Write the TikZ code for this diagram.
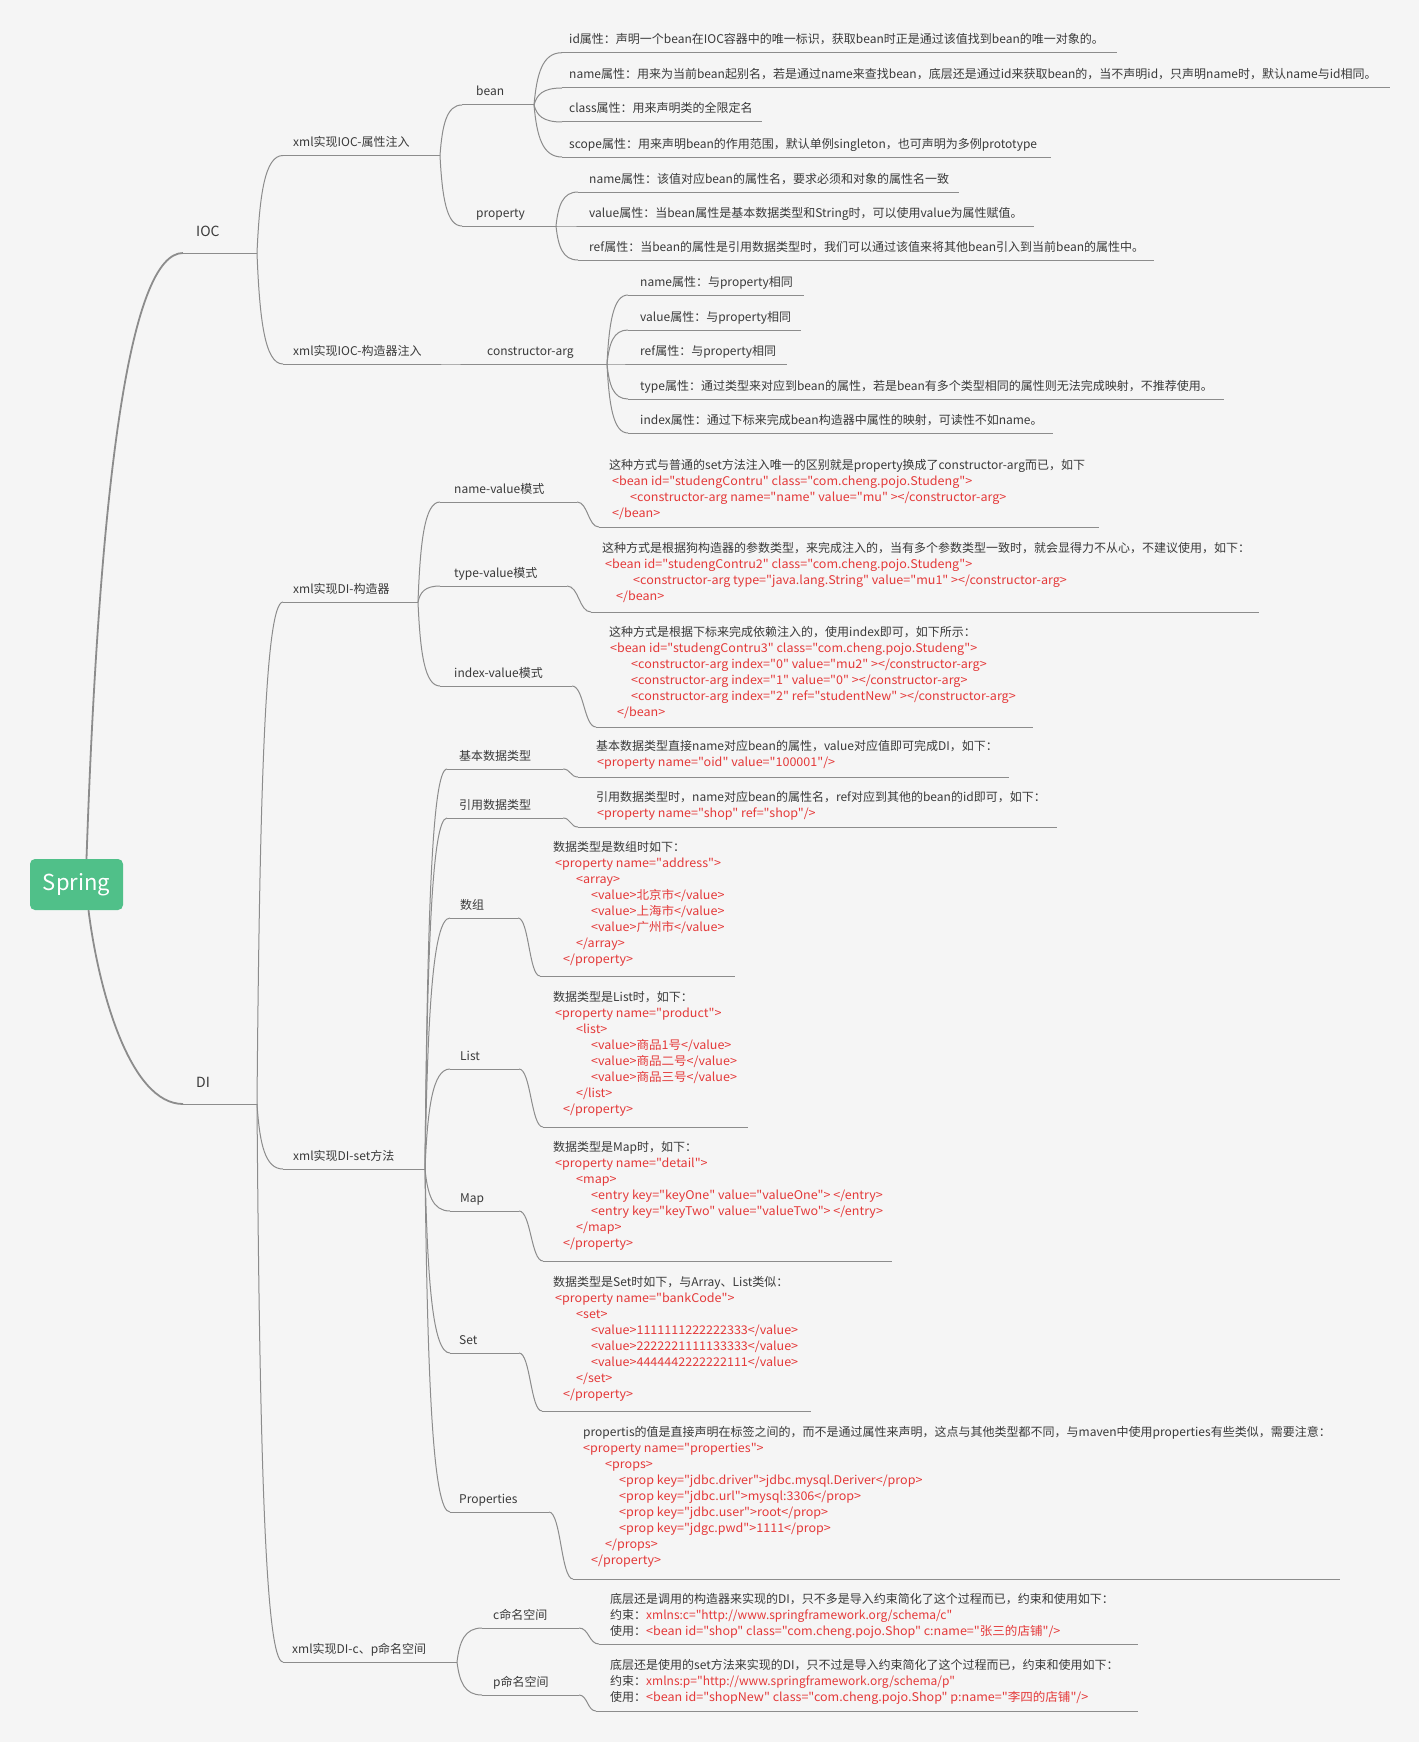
\documentclass[tikz,border=0pt]{standalone}
\usepackage{fontspec}
\defaultfontfeatures[\rmfamily,\sffamily]{}
\setmainfont{Noto Sans CJK SC}
\newfontfamily\cjkf{Noto Sans CJK SC}
\newfontfamily\codef{Noto Sans CJK SC}[FakeStretch=1.045]
\usetikzlibrary{calc}
\definecolor{bgc}{HTML}{F5F5F5}
\definecolor{lnc}{HTML}{8C8C8C}
\definecolor{txc}{HTML}{3A3A3A}
\definecolor{rdc}{RGB}{228,57,57}
\definecolor{sgc}{RGB}{80,192,137}
\newcommand\ctl{\rule{0pt}{11pt}}
\newcommand\rc[1]{{\codef\textcolor{rdc}{#1}}}
\newcommand\ru[1]{\textcolor{rdc}{#1}}
\newcommand\ind[1]{\hspace*{#1pt}}
\tikzset{
 lnk/.style={draw=lnc, line width=1pt},
 trunk/.style={draw=lnc, line width=1.8pt},
 fan/.style={to path={let \p1=(\tikztostart), \p2=(\tikztotarget) in .. controls ({\x1+0.1*(\x2-\x1)},{\y1+0.6*(\y2-\y1)}) and ({\x1+0.3*(\x2-\x1)},{\y2}) .. (\tikztotarget)}},
 ess/.style={to path={let \p1=(\tikztostart), \p2=(\tikztotarget) in .. controls ({0.5*\x1+0.5*\x2},{\y1}) and ({0.5*\x1+0.5*\x2},{\y2}) .. (\tikztotarget)}},
 lbl/.style={anchor=base west, inner sep=0pt, text=txc, font=\cjkf\fontsize{12}{15.9}\selectfont},
 big/.style={lbl, font=\cjkf\fontsize{14}{16}\selectfont},
 txt/.style={anchor=north west, inner sep=0pt, text=txc, align=left, font=\cjkf\fontsize{12}{15.9}\selectfont},
}
\begin{document}
\begin{tikzpicture}[x=1pt,y=-1pt]
\fill[bgc] (0,0) rectangle (1419,1742);
\useasboundingbox (0,0) rectangle (1419,1742);

% root
\node[fill=sgc, rounded corners=5pt, minimum width=93pt, minimum height=51pt, text=white, inner sep=0pt, font=\cjkf\fontsize{22}{24}\selectfont] (spring) at (76.5,884.5) {Spring};

% ---------- coordinates ----------
\coordinate (ioc-s) at (183,253); \coordinate (ioc-e) at (257,253);
\coordinate (a1-s) at (283,155.5); \coordinate (a1-e) at (440,155.5);
\coordinate (bean-s) at (462,105); \coordinate (bean-e) at (534,105);
\coordinate (b1-s) at (562,52.7); \coordinate (b1-e) at (1117,52.7);
\coordinate (b2-s) at (562,88); \coordinate (b2-e) at (1390,88);
\coordinate (b3-s) at (562,122); \coordinate (b3-e) at (762,122);
\coordinate (b4-s) at (562,157); \coordinate (b4-e) at (1051,157);
\coordinate (prop-s) at (462,226); \coordinate (prop-e) at (556,226);
\coordinate (p1-s) at (578,192); \coordinate (p1-e) at (959,192);
\coordinate (p2-s) at (578,226); \coordinate (p2-e) at (1034,226);
\coordinate (p3-s) at (578,260); \coordinate (p3-e) at (1154,260);
\coordinate (a2-s) at (283,364); \coordinate (a2-e) at (440,364);
\coordinate (ctor-s) at (462,364); \coordinate (ctor-e) at (607,364);
\coordinate (c1-s) at (628,295); \coordinate (c1-e) at (804,295);
\coordinate (c2-s) at (628,330); \coordinate (c2-e) at (801,330);
\coordinate (c3-s) at (628,364); \coordinate (c3-e) at (787,364);
\coordinate (c4-s) at (628,399); \coordinate (c4-e) at (1224,399);
\coordinate (c5-s) at (628,433); \coordinate (c5-e) at (1053,433);

\coordinate (di-s) at (183,1104); \coordinate (di-e) at (257,1104);
\coordinate (d1-s) at (283,602); \coordinate (d1-e) at (418,602);
\coordinate (nv-s) at (440,502); \coordinate (nv-e) at (577,502);
\coordinate (nvc-s) at (599,527); \coordinate (nvc-e) at (1099,527);
\coordinate (tv-s) at (440,586); \coordinate (tv-e) at (567,586);
\coordinate (tvc-s) at (591,612); \coordinate (tvc-e) at (1259,612);
\coordinate (iv-s) at (440,686); \coordinate (iv-e) at (572,686);
\coordinate (ivc-s) at (596,727); \coordinate (ivc-e) at (1033,727);
\coordinate (d2-s) at (283,1169); \coordinate (d2-e) at (425,1169);
\coordinate (s1-s) at (447,769); \coordinate (s1-e) at (563,769);
\coordinate (s1c-s) at (578,777); \coordinate (s1c-e) at (1009,777);
\coordinate (s2-s) at (447,818); \coordinate (s2-e) at (563,818);
\coordinate (s2c-s) at (578,827); \coordinate (s2c-e) at (1057,827);
\coordinate (s3-s) at (450,918); \coordinate (s3-e) at (518,918);
\coordinate (s3c-s) at (540,976); \coordinate (s3c-e) at (735,976);
\coordinate (s4-s) at (450,1069); \coordinate (s4-e) at (519,1069);
\coordinate (s4c-s) at (543,1127); \coordinate (s4c-e) at (748,1127);
\coordinate (s5-s) at (450,1211); \coordinate (s5-e) at (519,1211);
\coordinate (s5c-s) at (543,1261); \coordinate (s5c-e) at (892,1261);
\coordinate (s6-s) at (450,1353); \coordinate (s6-e) at (519,1353);
\coordinate (s6c-s) at (542,1411); \coordinate (s6c-e) at (811,1411);
\coordinate (s7-s) at (450,1512); \coordinate (s7-e) at (549,1512);
\coordinate (s7c-s) at (573,1579); \coordinate (s7c-e) at (1340,1579);
\coordinate (d3-s) at (283,1662); \coordinate (d3-e) at (457,1662);
\coordinate (cn-s) at (482,1628); \coordinate (cn-e) at (579,1628);
\coordinate (cnc-s) at (599,1644); \coordinate (cnc-e) at (1138,1644);
\coordinate (pn-s) at (482,1695); \coordinate (pn-e) at (579,1695);
\coordinate (pnc-s) at (596,1711); \coordinate (pnc-e) at (1138,1711);

% ---------- trunks ----------
\draw[trunk] ([xshift=10pt]spring.north) .. controls +(13,-379) and +(-53,0) .. (ioc-s);
\draw[trunk] ([xshift=12pt]spring.south) .. controls +(10,80) and +(-53,0) .. (di-s);

% ---------- underlines ----------
\foreach \n in {ioc,a1,bean,b1,b2,b3,b4,prop,p1,p2,p3,a2,ctor,c1,c2,c3,c4,c5,
  di,d1,nv,nvc,tv,tvc,iv,ivc,d2,s1,s1c,s2,s2c,s3,s3c,s4,s4c,s5,s5c,s6,s6c,s7,s7c,d3,cn,cnc,pn,pnc}
  {\draw[lnk] (\n-s) -- (\n-e);}

% ---------- fan connectors ----------
\foreach \a/\b in {ioc/a1,ioc/a2,a1/bean,a1/prop,bean/b1,bean/b2,bean/b3,bean/b4,
  prop/p1,prop/p2,prop/p3,a2/ctor,ctor/c1,ctor/c2,ctor/c3,ctor/c4,ctor/c5,
  di/d1,di/d2,di/d3,d1/nv,d1/tv,d1/iv,d2/s1,d2/s2,d2/s3,d2/s4,d2/s5,d2/s6,d2/s7,d3/cn,d3/pn}
  {\draw[lnk] (\a-e) to[fan] (\b-s);}

% ---------- S connectors ----------
\foreach \a/\b in {nv/nvc,tv/tvc,iv/ivc,s1/s1c,s2/s2c,s3/s3c,s4/s4c,s5/s5c,s6/s6c,s7/s7c,cn/cnc,pn/pnc}
  {\draw[lnk] (\a-e) to[ess] (\b-s);}

% ---------- labels ----------
\node[big] (ioc) at (196,236) {IOC};
\node[big] (di) at (196,1087) {DI};
\node[lbl] (a1) at (293,146.5) {xml实现IOC-属性注入};
\node[lbl] (bean) at (476,96) {bean};
\node[lbl] (b1) at (569,43.7) {id属性：声明一个bean在IOC容器中的唯一标识，获取bean时正是通过该值找到bean的唯一对象的。};
\node[lbl] (b2) at (569,79) {name属性：用来为当前bean起别名，若是通过name来查找bean，底层还是通过id来获取bean的，当不声明id，只声明name时，默认name与id相同。};
\node[lbl] (b3) at (569,113) {class属性：用来声明类的全限定名};
\node[lbl] (b4) at (569,148) {scope属性：用来声明bean的作用范围，默认单例singleton，也可声明为多例prototype};
\node[lbl] (prop) at (476,217) {property};
\node[lbl] (p1) at (589,183) {name属性：该值对应bean的属性名，要求必须和对象的属性名一致};
\node[lbl] (p2) at (589,217) {value属性：当bean属性是基本数据类型和String时，可以使用value为属性赋值。};
\node[lbl] (p3) at (589,251) {ref属性：当bean的属性是引用数据类型时，我们可以通过该值来将其他bean引入到当前bean的属性中。};
\node[lbl] (a2) at (293,355) {xml实现IOC-构造器注入};
\node[lbl] (ctor) at (487,355) {constructor-arg};
\node[lbl] (c1) at (640,286) {name属性：与property相同};
\node[lbl] (c2) at (640,321) {value属性：与property相同};
\node[lbl] (c3) at (640,355) {ref属性：与property相同};
\node[lbl] (c4) at (640,390) {type属性：通过类型来对应到bean的属性，若是bean有多个类型相同的属性则无法完成映射，不推荐使用。};
\node[lbl] (c5) at (640,424) {index属性：通过下标来完成bean构造器中属性的映射，可读性不如name。};

\node[lbl] (d1) at (293,593) {xml实现DI-构造器};
\node[lbl] (nv) at (454,493) {name-value模式};
\node[lbl] (tv) at (454,577) {type-value模式};
\node[lbl] (iv) at (454,677) {index-value模式};
\node[lbl] (d2) at (293,1160) {xml实现DI-set方法};
\node[lbl] (s1) at (459,760) {基本数据类型};
\node[lbl] (s2) at (459,809) {引用数据类型};
\node[lbl] (s3) at (460,909) {数组};
\node[lbl] (s4) at (460,1060) {List};
\node[lbl] (s5) at (460,1202) {Map};
\node[lbl] (s6) at (459,1344) {Set};
\node[lbl] (s7) at (459,1503) {Properties};
\node[lbl] (d3) at (292,1653) {xml实现DI-c、p命名空间};
\node[lbl] (cn) at (493,1619) {c命名空间};
\node[lbl] (pn) at (493,1686) {p命名空间};

% ---------- content ----------
\node[txt] (nvc) at (609,458.6) {\ctl 这种方式与普通的set方法注入唯一的区别就是property换成了constructor-arg而已，如下\\
\ind{3}\rc{<bean id="studengContru" class="com.cheng.pojo.Studeng">}\\
\ind{21}\rc{<constructor-arg name="name" value="mu" ></constructor-arg>}\\
\ind{3}\rc{</bean>}};

\node[txt] (tvc) at (602,541.6) {\ctl 这种方式是根据狗构造器的参数类型，来完成注入的，当有多个参数类型一致时，就会显得力不从心，不建议使用，如下：\\
\ind{3}\rc{<bean id="studengContru2" class="com.cheng.pojo.Studeng">}\\
\ind{31}\rc{<constructor-arg type="java.lang.String" value="mu1" ></constructor-arg>}\\
\ind{14}\rc{</bean>}};

\node[txt] (ivc) at (609,625.6) {\ctl 这种方式是根据下标来完成依赖注入的，使用index即可，如下所示：\\
\ind{1}\rc{<bean id="studengContru3" class="com.cheng.pojo.Studeng">}\\
\ind{22}\rc{<constructor-arg index="0" value="mu2" ></constructor-arg>}\\
\ind{22}\rc{<constructor-arg index="1" value="0" ></constructor-arg>}\\
\ind{22}\rc{<constructor-arg index="2" ref="studentNew" ></constructor-arg>}\\
\ind{8}\rc{</bean>}};

\node[txt] (s1c) at (596,739.6) {\ctl 基本数据类型直接name对应bean的属性，value对应值即可完成DI，如下：\\
\ind{1}\rc{<property name="oid" value="100001"/>}};

\node[txt] (s2c) at (596,790.6) {\ctl 引用数据类型时，name对应bean的属性名，ref对应到其他的bean的id即可，如下：\\
\ind{1}\rc{<property name="shop" ref="shop"/>}};

\node[txt] (s3c) at (553,840.6) {\ctl 数据类型是数组时如下：\\
\ind{2}\rc{<property name="address">}\\
\ind{23}\rc{<array>}\\
\ind{38}\rc{<value>北京市</value>}\\
\ind{38}\rc{<value>上海市</value>}\\
\ind{38}\rc{<value>广州市</value>}\\
\ind{23}\rc{</array>}\\
\ind{10}\rc{</property>}};

\node[txt] (s4c) at (553,990.6) {\ctl 数据类型是List时，如下：\\
\ind{2}\rc{<property name="product">}\\
\ind{23}\rc{<list>}\\
\ind{38}\rc{<value>商品1号</value>}\\
\ind{38}\rc{<value>商品二号</value>}\\
\ind{38}\rc{<value>商品三号</value>}\\
\ind{23}\rc{</list>}\\
\ind{10}\rc{</property>}};

\node[txt] (s5c) at (553,1140.6) {\ctl 数据类型是Map时，如下：\\
\ind{2}\rc{<property name="detail">}\\
\ind{23}\rc{<map>}\\
\ind{38}\rc{<entry key="keyOne" value="valueOne"> </entry>}\\
\ind{38}\rc{<entry key="keyTwo" value="valueTwo"> </entry>}\\
\ind{23}\rc{</map>}\\
\ind{10}\rc{</property>}};

\node[txt] (s6c) at (553,1275.6) {\ctl 数据类型是Set时如下，与Array、List类似：\\
\ind{2}\rc{<property name="bankCode">}\\
\ind{23}\rc{<set>}\\
\ind{38}\rc{<value>1111111222222333</value>}\\
\ind{38}\rc{<value>2222221111133333</value>}\\
\ind{38}\rc{<value>4444442222222111</value>}\\
\ind{23}\rc{</set>}\\
\ind{10}\rc{</property>}};

\node[txt] (s7c) at (583,1425.6) {\ctl propertis的值是直接声明在标签之间的，而不是通过属性来声明，这点与其他类型都不同，与maven中使用properties有些类似，需要注意：\\
\rc{<property name="properties">}\\
\ind{22}\rc{<props>}\\
\ind{36}\rc{<prop key="jdbc.driver">jdbc.mysql.Deriver</prop>}\\
\ind{36}\rc{<prop key="jdbc.url">mysql:3306</prop>}\\
\ind{36}\rc{<prop key="jdbc.user">root</prop>}\\
\ind{36}\rc{<prop key="jdgc.pwd">1111</prop>}\\
\ind{22}\rc{</props>}\\
\ind{8}\rc{</property>}};

\node[txt] (cnc) at (610,1592.6) {\ctl 底层还是调用的构造器来实现的DI，只不多是导入约束简化了这个过程而已，约束和使用如下：\\
约束：\ru{xmlns:c="http://www.springframework.org/schema/c"}\\
使用：\rc{<bean id="shop" class="com.cheng.pojo.Shop" c:name="张三的店铺"/>}};

\node[txt] (pnc) at (610,1658.6) {\ctl 底层还是使用的set方法来实现的DI，只不过是导入约束简化了这个过程而已，约束和使用如下：\\
约束：\ru{xmlns:p="http://www.springframework.org/schema/p"}\\
使用：\rc{<bean id="shopNew" class="com.cheng.pojo.Shop" p:name="李四的店铺"/>}};
\end{tikzpicture}
\end{document}
